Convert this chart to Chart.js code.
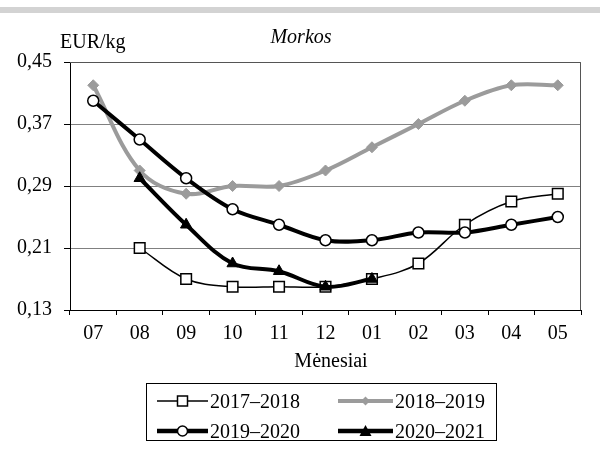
<!DOCTYPE html>
<html><head><meta charset="utf-8">
<script src="https://cdn.jsdelivr.net/npm/chart.js@4.4.1/dist/chart.umd.min.js"></script>
<style>
body{margin:0;background:#fff;width:600px;height:454px;overflow:hidden;position:relative;font-family:"Liberation Serif","Times New Roman",serif;}
#bar{position:absolute;left:0;top:7px;width:600px;height:6px;background:#d3d3d3;}
#c{position:absolute;left:0;top:0;}
.t{position:absolute;font-size:20px;color:#000;white-space:nowrap;line-height:1;}
#legend{position:absolute;left:146px;top:383px;width:351px;height:58px;border:1px solid #000;box-sizing:border-box;}
.li{position:absolute;display:flex;align-items:center;font-size:20px;line-height:1;white-space:nowrap;}
.li svg{display:block;margin-right:2px;}
</style>
</head><body>
<div id="bar"></div>
<canvas id="c" width="600" height="454"></canvas>
<div class="t" style="left:201px;top:26px;width:200px;text-align:center;font-style:italic;">Morkos</div>
<div class="t" style="left:60px;top:31px;">EUR/kg</div>
<div class="t" style="left:231px;top:350px;width:200px;text-align:center;">Mėnesiai</div>
<div id="legend"></div>
<script>
const categories = ['07','08','09','10','11','12','01','02','03','04','05'];
const s2017_2018 = [null,0.21,0.17,0.16,0.16,0.16,0.17,0.19,0.24,0.27,0.28];
const s2018_2019 = [0.42,0.31,0.28,0.29,0.29,0.31,0.34,0.37,0.40,0.42,0.42];
const s2019_2020 = [0.40,0.35,0.30,0.26,0.24,0.22,0.22,0.23,0.23,0.24,0.25];
const s2020_2021 = [null,0.30,0.24,0.19,0.18,0.16,0.17,null,null,null,null];
const seriesNames = ['2017–2018','2018–2019','2019–2020','2020–2021'];
const yTicks = [0.13,0.21,0.29,0.37,0.45];

const GRAY = '#9b9b9b';
const frame = {
  id:'frame',
  afterDatasetsDraw(chart){
    const a = chart.chartArea, ctx = chart.ctx;
    ctx.save();
    ctx.strokeStyle = '#555';
    ctx.lineWidth = 1;
    ctx.beginPath();
    ctx.moveTo(a.left, a.top+0.5); ctx.lineTo(a.right-0.5, a.top+0.5); ctx.lineTo(a.right-0.5, a.bottom);
    ctx.stroke();
    ctx.restore();
  }
};

new Chart(document.getElementById('c'), {
  type:'line',
  data:{
    labels: categories,
    datasets:[
      {label:seriesNames[0], data:s2017_2018, borderColor:'#000', borderWidth:1.5, pointStyle:'rect', pointRadius:7.5, pointBackgroundColor:'#fff', pointBorderColor:'#000', pointBorderWidth:1.5, tension:0.35, order:2},
      {label:seriesNames[1], data:s2018_2019, borderColor:GRAY, borderWidth:4, pointStyle:'rectRot', pointRadius:5.5, pointBackgroundColor:GRAY, pointBorderColor:GRAY, pointBorderWidth:1, tension:0.35, order:3},
      {label:seriesNames[2], data:s2019_2020, borderColor:'#000', borderWidth:4, pointStyle:'circle', pointRadius:5.5, pointBackgroundColor:'#fff', pointBorderColor:'#000', pointBorderWidth:1.5, tension:0.35, order:1},
      {label:seriesNames[3], data:s2020_2021, borderColor:'#000', borderWidth:4, pointStyle:'triangle', pointRadius:6.5, pointBackgroundColor:'#000', pointBorderColor:'#000', pointBorderWidth:1, tension:0.35, order:0}
    ]
  },
  options:{
    responsive:false, animation:false,
    layout:{padding:{top:62,right:19,left:0,bottom:0}},
    plugins:{legend:{display:false}, title:{display:false}, tooltip:{enabled:false}},
    scales:{
      x:{
        offset:true,
        grid:{display:true, offset:true, drawOnChartArea:false, tickLength:5, color:'#000', tickColor:'#000'},
        border:{display:true, color:'#000', width:1},
        ticks:{color:'#000', padding:7, font:{family:'"Liberation Serif", serif', size:20}, maxRotation:0, autoSkip:false},
        afterFit(s){ s.height = 144; }
      },
      y:{
        min:0.13, max:0.45,
        afterBuildTicks(s){ s.ticks = yTicks.map(v=>({value:v})); },
        grid:{color:'#808080', lineWidth:1, tickLength:6, tickColor:'#000'},
        border:{display:true, color:'#000', width:1},
        ticks:{color:'#000', padding:12, font:{family:'"Liberation Serif", serif', size:20}, callback:(v)=>v.toFixed(2).replace('.',',')},
        afterFit(s){ s.width = 70; }
      }
    }
  },
  plugins:[frame]
});

// HTML legend
const sym = [
  '<svg width="51" height="14"><line x1="0" y1="7" x2="51" y2="7" stroke="#000" stroke-width="1.5"/><rect x="20.5" y="2" width="10" height="10" fill="#fff" stroke="#000" stroke-width="1.5"/></svg>',
  '<svg width="55" height="14"><line x1="0" y1="7" x2="55" y2="7" stroke="'+GRAY+'" stroke-width="4"/><polygon points="27.5,2.5 32,7 27.5,11.5 23,7" fill="'+GRAY+'"/></svg>',
  '<svg width="51" height="14"><line x1="0" y1="7" x2="51" y2="7" stroke="#000" stroke-width="4.5"/><circle cx="25.5" cy="7" r="5" fill="#fff" stroke="#000" stroke-width="1.5"/></svg>',
  '<svg width="55" height="14"><line x1="0" y1="7" x2="55" y2="7" stroke="#000" stroke-width="4.5"/><polygon points="27.5,1 33.5,12 21.5,12" fill="#000"/></svg>'
];
const pos = [[10,7],[191,7],[10,37],[191,37]];
const lg = document.getElementById('legend');
seriesNames.forEach((n,i)=>{
  const d = document.createElement('div');
  d.className='li';
  d.style.left = pos[i][0]+'px'; d.style.top = pos[i][1]+'px';
  d.innerHTML = sym[i] + '<span>'+n+'</span>';
  lg.appendChild(d);
});
</script>
</body></html>
